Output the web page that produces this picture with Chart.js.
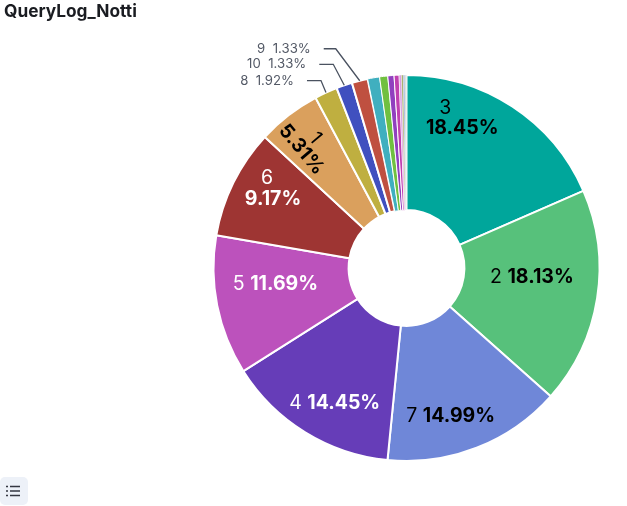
<!DOCTYPE html>
<html>
<head>
<meta charset="utf-8">
<title>QueryLog_Notti</title>
<script src="https://cdn.jsdelivr.net/npm/chart.js@4"></script>
<style>
    html, body { margin: 0; padding: 0; background: #fff; overflow: hidden; }
    #wrap { position: relative; width: 627px; height: 506px; font-family: Inter, sans-serif; }
    #title { position: absolute; left: 4px; top: 0; font-size: 17.3px; line-height: 21px; font-weight: 700; color: #1a1c21; }
    #legendBtn { position: absolute; left: 0; top: 477px; width: 28px; height: 28px; background: #edf1f8; border-radius: 5px; }
    #legendBtn svg { position: absolute; left: 5px; top: 7px; }
    canvas { position: absolute; left: 0; top: 0; }
</style>
</head>
<body>
<div id="wrap">
    <canvas id="myChart" width="627" height="506"></canvas>
    <div id="title">QueryLog_Notti</div>
    <div id="legendBtn">
        <svg width="16" height="14" viewBox="0 0 16 14">
            <g stroke="#343741" stroke-width="1.4">
                <path d="M1 2.5h2M5 2.5h10M1 7h2M5 7h10M1 11.5h2M5 11.5h10"/>
            </g>
        </svg>
    </div>
</div>
<script>
const categories = ['3', '2', '7', '4', '5', '6', '1', '8', '10', '9', '11', '12', '13', '14', '15', '16', '17', '18', '19'];
const shares = [18.45, 18.13, 14.99, 14.45, 11.69, 9.17, 5.31, 1.92, 1.33, 1.33, 1.0, 0.68, 0.52, 0.42, 0.2, 0.15, 0.12, 0.08, 0.06];
const shareLabels = ['18.45%', '18.13%', '14.99%', '14.45%', '11.69%', '9.17%', '5.31%', '1.92%', '1.33%', '1.33%'];
const colors = ['#00a69b', '#57c17b', '#6f87d8', '#663db8', '#bc52bc', '#9e3533', '#daa05d', '#bfaf40',
    '#4050bf', '#bf5040', '#40afbf', '#70c040', '#9040bf', '#c040b0', '#d8a0e0', '#a0a860', '#80a0d0', '#b0b0b0', '#c8c8c8'];

// label placement, as offsets from each slice's centre point
const insideLabels = {
    '3': { dark: true, name: [-30, -55], value: [-13, -35] },
    '2': { dark: true, line: [1.5, -11] },
    '7': { dark: true, line: [-1.5, 31] },
    '4': { dark: false, line: [-6, 28] },
    '5': { dark: false, line: [-8, -8] },
    '6': { dark: false, name: [-27, -34], value: [-21, -13] },
    '1': { dark: true, rotate: 50, at: [-21.5, -25] }
};

// leader lines for the thin slices: elbow offset from the arc edge, then run to the left
const outsideLabels = {
    '9': { elbow: [-24, -32], run: 12 },
    '10': { elbow: [-11, -21], run: 14 },
    '8': { elbow: [-5, -12], run: 14 }
};

const NAME_FONT = '400 19.5px Inter';
const VALUE_FONT = '700 19.5px Inter';

const sliceLabels = {
    id: 'sliceLabels',
    afterDatasetsDraw(chart) {
        const ctx = chart.ctx;
        chart.getDatasetMeta(0).data.forEach((arc, i) => {
            const name = categories[i];
            const p = arc.getCenterPoint();
            const inside = insideLabels[name];
            if (inside) {
                drawInside(ctx, name, shareLabels[i], p, inside);
            } else if (outsideLabels[name]) {
                drawOutside(ctx, name, shareLabels[i], arc, outsideLabels[name]);
            }
        });
    }
};

function drawInside(ctx, name, value, p, opt) {
    ctx.save();
    ctx.fillStyle = opt.dark ? '#000' : '#fff';
    ctx.textBaseline = 'middle';
    ctx.textAlign = 'center';
    if (opt.rotate) {
        ctx.translate(p.x + opt.at[0], p.y + opt.at[1]);
        ctx.rotate(opt.rotate * Math.PI / 180);
        ctx.font = NAME_FONT;
        ctx.fillText(name, 0, -9);
        ctx.font = VALUE_FONT;
        ctx.fillText(value, 0, 9);
    } else if (opt.line) {
        ctx.font = NAME_FONT;
        const nameW = ctx.measureText(name + ' ').width;
        ctx.font = VALUE_FONT;
        const valueW = ctx.measureText(value).width;
        const left = p.x + opt.line[0] - (nameW + valueW) / 2;
        const y = p.y + opt.line[1];
        ctx.textAlign = 'left';
        ctx.font = NAME_FONT;
        ctx.fillText(name, left, y);
        ctx.font = VALUE_FONT;
        ctx.fillText(value, left + nameW, y);
    } else {
        ctx.font = NAME_FONT;
        ctx.fillText(name, p.x + opt.name[0], p.y + opt.name[1]);
        ctx.font = VALUE_FONT;
        ctx.fillText(value, p.x + opt.value[0], p.y + opt.value[1]);
    }
    ctx.restore();
}

function drawOutside(ctx, name, value, arc, opt) {
    const mid = (arc.startAngle + arc.endAngle) / 2;
    const x0 = arc.x + Math.cos(mid) * arc.outerRadius;
    const y0 = arc.y + Math.sin(mid) * arc.outerRadius;
    const x1 = x0 + opt.elbow[0];
    const y1 = y0 + opt.elbow[1];
    const x2 = x1 - opt.run;
    ctx.save();
    ctx.strokeStyle = '#4a5260';
    ctx.lineWidth = 1.3;
    ctx.beginPath();
    ctx.moveTo(x0, y0);
    ctx.lineTo(x1, y1);
    ctx.lineTo(x2, y1);
    ctx.stroke();
    ctx.font = '400 13.2px Inter';
    ctx.fillStyle = '#535966';
    ctx.textAlign = 'right';
    ctx.textBaseline = 'middle';
    ctx.fillText(name + '  ' + value, x2 - 13, y1);
    ctx.restore();
}

new Chart(document.getElementById('myChart'), {
    type: 'doughnut',
    data: {
        labels: categories,
        datasets: [{
            data: shares,
            backgroundColor: colors,
            borderColor: '#fff',
            // the tiny slices would vanish under a 2px border
            borderWidth: c => (c.dataIndex > 13 ? 0.4 : c.dataIndex > 9 ? 1 : 2)
        }]
    },
    options: {
        responsive: false,
        animation: false,
        cutout: '30%',
        layout: { padding: { left: 212, right: 26, top: 74, bottom: 44 } },
        plugins: {
            legend: { display: false },
            tooltip: { enabled: false }
        }
    },
    plugins: [sliceLabels]
});
</script>
</body>
</html>
